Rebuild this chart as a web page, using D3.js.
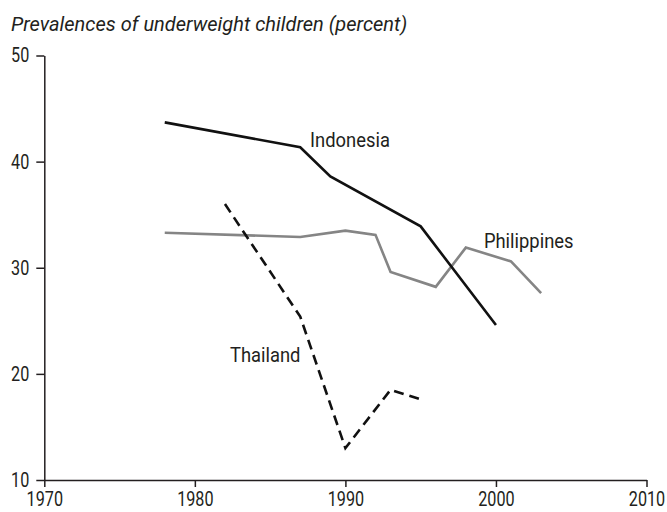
<!DOCTYPE html>
<html><head><meta charset="utf-8">
<script src="https://cdn.jsdelivr.net/npm/d3@7/dist/d3.min.js"></script>
<style>body{margin:0;background:#fff}svg{display:block}text{font-family:Roboto,sans-serif;fill:#231f20}</style>
</head><body><svg id="c" width="667" height="512"></svg>
<script>
const xTicks = [1970, 1980, 1990, 2000, 2010];
const yTicks = [10, 20, 30, 40, 50];
const indonesiaYears = [1978, 1987, 1989, 1995, 2000];
const indonesiaValues = [43.7, 41.35, 38.6, 33.9, 24.6];
const philippinesYears = [1978, 1987, 1990, 1992, 1993, 1996, 1998, 2001, 2003];
const philippinesValues = [33.3, 32.9, 33.5, 33.1, 29.6, 28.2, 31.9, 30.6, 27.6];
const thailandYears = [1982, 1987, 1990, 1993, 1995];
const thailandValues = [36.0, 25.4, 13.0, 18.5, 17.6];
const title = "Prevalences of underweight children (percent)";

const svg = d3.select("#c");
const x = d3.scaleLinear().domain([1970, 2010]).range([44.3, 646.5]);
const y = d3.scaleLinear().domain([10, 50]).range([480, 55.5]);

function condense(sel, s) {
  sel.each(function () {
    const t = d3.select(this);
    const xv = +(t.attr("x") || 0);
    t.attr("x", xv / s).attr("transform", `scale(${s},1)`);
  });
}

svg.append("text").attr("x", 11).attr("y", 30.5).attr("font-size", 20).attr("font-style", "italic").text(title);

const xa = svg.append("g").attr("transform", `translate(0,${y(10)})`)
  .call(d3.axisBottom(x).tickValues(xTicks).tickFormat(d3.format("d")).tickSize(7).tickPadding(5).tickSizeOuter(0));
const ya = svg.append("g").attr("transform", `translate(${x(1970)},0)`)
  .call(d3.axisLeft(y).tickValues(yTicks).tickSize(8).tickPadding(7).tickSizeOuter(0));
[xa, ya].forEach(a => {
  a.selectAll("path,line").attr("stroke", "#231f20").attr("stroke-width", 1.5);
  a.selectAll("text").attr("font-size", 20).attr("fill", "#231f20").attr("font-family", "Roboto, sans-serif");
  condense(a.selectAll("text"), 0.81);
});

const line = d3.line().x(d => x(d[0])).y(d => y(d[1]));
const zip = (a, b) => a.map((v, i) => [v, b[i]]);

svg.append("path").datum(zip(philippinesYears, philippinesValues)).attr("d", line)
  .attr("fill", "none").attr("stroke", "#858585").attr("stroke-width", 2.6);
svg.append("path").datum(zip(indonesiaYears, indonesiaValues)).attr("d", line)
  .attr("fill", "none").attr("stroke", "#111").attr("stroke-width", 2.6);
svg.append("path").datum(zip(thailandYears, thailandValues)).attr("d", line)
  .attr("fill", "none").attr("stroke", "#111").attr("stroke-width", 2.6).attr("stroke-dasharray", "10,6");

const labels = svg.append("g");
labels.append("text").attr("x", x(1987.65)).attr("y", y(41.4)).text("Indonesia");
labels.append("text").attr("x", x(1982.33)).attr("y", y(21.15)).text("Thailand");
labels.append("text").attr("x", x(1999.2)).attr("y", y(31.83)).text("Philippines");
labels.selectAll("text").attr("font-size", 20);
condense(labels.selectAll("text"), 0.92);
</script></body></html>
